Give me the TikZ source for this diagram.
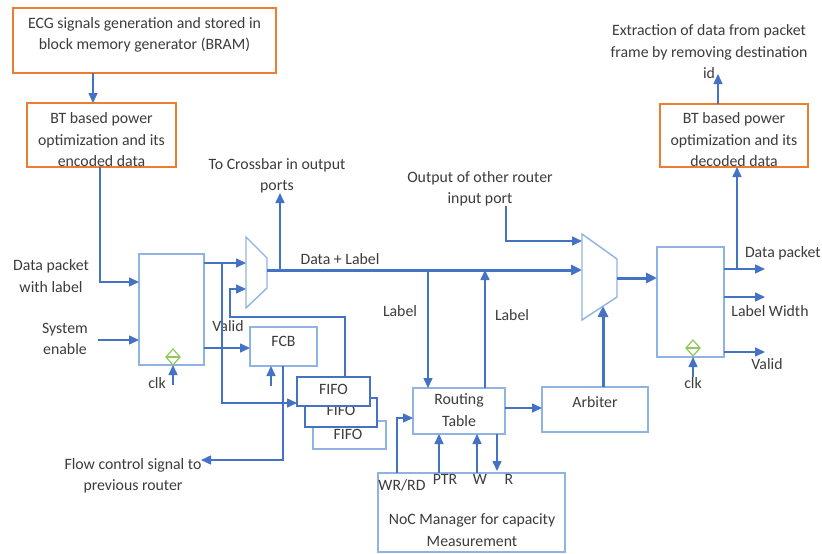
\documentclass[tikz,border=0pt]{standalone}
\usepackage{fontspec}
\setmainfont{Carlito}
\usetikzlibrary{arrows.meta,shapes.geometric}
\definecolor{wireblue}{RGB}{68,114,196}
\definecolor{frameblue}{RGB}{143,180,227}
\definecolor{accentorange}{RGB}{237,125,49}
\definecolor{labelgray}{RGB}{60,60,60}
\definecolor{clkgreen}{RGB}{146,200,90}
\begin{document}
\begin{tikzpicture}[x=1pt,y=-1pt,
  every node/.style={inner sep=0pt, outer sep=0pt},
  lbl/.style={text=labelgray, font=\fontsize{15.8}{21.5}\selectfont, align=center},
  frame/.style={draw=frameblue, line width=1.4pt, fill=white},
  darkframe/.style={draw=wireblue, line width=1.4pt, fill=white},
  srcbox/.style={draw=accentorange, line width=2.2pt},
  muxline/.style={draw=frameblue, line width=1.4pt, line join=miter},
  wire/.style={draw=wireblue, line width=1.5pt, -{Triangle[length=10pt,width=9pt]}},
  busarrow/.style={draw=wireblue, line width=3pt, -{Triangle[length=11pt,width=10pt]}},
  clkmark/.style={diamond, draw=clkgreen, line width=1.2pt, minimum width=14pt, minimum height=16pt}
]
\fill[white] (0,0) rectangle (822,554);
\useasboundingbox (0,0) rectangle (822,554);

% ---- source memory and encoder ----
\node[srcbox, minimum width=263pt, minimum height=65pt] (ecg) at (144.5,40.5) {};
\node[lbl] (ecgtxt) at (144.5,35) {ECG signals generation and stored in\\block memory generator (BRAM)};
\node[srcbox, minimum width=149pt, minimum height=64pt] (enc) at (101.5,135) {};
\node[lbl] (enctxt) at (101.5,140) {BT based power\\optimization and its\\encoded data};

% ---- decoder ----
\node[srcbox, minimum width=148pt, minimum height=63pt] (dec) at (734,135.5) {};
\node[lbl] (dectxt) at (734,140) {BT based power\\optimization and its\\decoded data};
\node[lbl] (extrtxt) at (709,52) {Extraction of data from packet\\frame by removing destination\\id};

% ---- input register ----
\node[frame, minimum width=65pt, minimum height=111pt] (inreg) at (171.5,309.5) {};
\node[clkmark] (inclk) at (173,357) {};
\draw[draw=clkgreen, line width=1.2pt] (inclk.west) -- (inclk.east);
\node[lbl] (inclktxt) at (157,383) {clk};
\node[lbl] (pkt) at (51,276) {Data packet\\with label};
\node[lbl] (en) at (65,339) {System\\enable};

% ---- flow control block ----
\node[frame, minimum width=67pt, minimum height=39pt] (fcb) at (283.5,346.5) {};
\node[lbl] (fcbtxt) at (283.5,341) {FCB};
\node[lbl] (validin) at (228,326) {Valid};
\node[lbl] (flow) at (133,476) {Flow control signal to\\previous router};

% ---- FIFO stack ----
\node[frame, minimum width=73pt, minimum height=28pt] (fifoC) at (349.5,435) {};
\node[lbl] (fifoCtxt) at (348,434) {FIFO};
\node[darkframe, minimum width=72pt, minimum height=29pt] (fifoB) at (341,412.5) {};
\node[lbl] (fifoBtxt) at (341,410) {FIFO};
\node[darkframe, minimum width=73pt, minimum height=29pt] (fifoA) at (333.5,391.5) {};
\node[lbl] (fifoAtxt) at (333.5,389) {FIFO};

% ---- routing, arbiter, manager ----
\node[frame, minimum width=92pt, minimum height=46pt] (routing) at (459,411) {};
\node[lbl] (routingtxt) at (459,410) {Routing\\Table};
\node[frame, minimum width=106pt, minimum height=45pt] (arbiter) at (595,409.5) {};
\node[lbl] (arbitertxt) at (595,402) {Arbiter};
\node[frame, minimum width=187pt, minimum height=79pt] (noc) at (471.5,512.5) {};
\node[lbl] (noctxt) at (472,530) {NoC Manager for capacity\\Measurement};
\node[lbl] (wrrd) at (402,485) {WR/RD};
\node[lbl] (ptr) at (445,479) {PTR};
\node[lbl] (wsig) at (480,479) {W};
\node[lbl] (rsig) at (509,479) {R};

% ---- output register ----
\node[frame, minimum width=67pt, minimum height=110pt] (outreg) at (690.5,302) {};
\node[clkmark] (outclk) at (693,348) {};
\draw[draw=clkgreen, line width=1.2pt] (outclk.west) -- (outclk.east);
\node[lbl] (outclktxt) at (693,383) {clk};
\node[lbl, anchor=west] (pktout) at (745,253) {Data packet};
\node[lbl] (lw) at (770,311) {Label Width};
\node[lbl] (validout) at (767,364) {Valid};

% ---- multiplexers ----
\node[minimum width=21pt, minimum height=71pt] (mux1) at (256.5,272.5) {};
\draw[muxline] (mux1.north west) -- ([yshift=-21pt]mux1.north east)
  -- ([yshift=20pt]mux1.south east) -- (mux1.south west) -- cycle;
\node[minimum width=35pt, minimum height=86pt] (mux2) at (599.5,277) {};
\draw[muxline] (mux2.north west) -- ([yshift=-25pt]mux2.north east)
  -- ([yshift=23pt]mux2.south east) -- (mux2.south west) -- cycle;
\node[lbl] (buslbl) at (340,259) {Data + Label};
\node[lbl] (xbartxt) at (277,176) {To Crossbar in output\\ports};
\node[lbl] (othertxt) at (480,189) {Output of other router\\input port};
\node[lbl] (lbl1) at (400,311) {Label};
\node[lbl] (lbl2) at (512,315) {Label};

% ---- free ends and bends ----
\coordinate (inclksrc) at (173,385);
\coordinate (ensrc) at (98,340);
\coordinate (fork) at (222,263);
\coordinate (fbturn) at (230,317);
\coordinate (fcbsrc) at (271,386);
\coordinate (flowtip) at (201,460);
\coordinate (busy) at (0,270);
\coordinate (xbar) at (280,193);
\coordinate (othersrc) at (506,206);
\coordinate (sel) at (603,306);
\coordinate (outclksrc) at (693,377);
\coordinate (outA) at (765,269);
\coordinate (outB) at (765,297);
\coordinate (outC) at (765,352);
\coordinate (extr) at (718,74);
\coordinate (rtip) at (497,471);

% ---- connectors ----
\draw[wire] (ecg.south -| 93,0) -- (enc.north -| 93,0);
\draw[wire] (enc.south -| 100,0) |- (inreg.west |- 0,282);
\draw[wire] (ensrc) -- (ensrc -| inreg.west);
\draw[wire] (inclksrc) -- (inclksrc |- inreg.south);
\draw[wire] (inreg.east |- fork) -- (mux1.west |- fork);
\draw[wire] (fork) |- (fifoA.west |- 0,403);
\draw[wire] (fifoA.north -| 345,0) |- (fbturn) |- (mux1.west |- 0,289);
\draw[wire] (inreg.east |- 0,348) -- (fcb.west |- 0,348);
\draw[wire] (fcbsrc) -- (fcbsrc |- fcb.south);
\draw[wire] (fcb.south -| 283,0) |- (flowtip);

\draw[busarrow] (mux1.east |- busy) -- (mux2.west |- busy);
\draw[wire] (xbar |- busy) -- (xbar);
\draw[wire] (428,0 |- busy) -- (routing.north -| 428,0);
\draw[wire] (routing.north -| 485,0) -- (485,0 |- busy);
\draw[wire] (othersrc) |- (mux2.west |- 0,241);
\draw[busarrow] (mux2.east |- 0,278) -- (outreg.west |- 0,278);
\draw[busarrow] (arbiter.north -| sel) -- (sel);

\draw[wire] (routing.east |- 0,408) -- (arbiter.west |- 0,408);
\draw[wire] (noc.north -| 397,0) |- (routing.west |- 0,418);
\draw[wire] (noc.north -| 439,0) -- (routing.south -| 439,0);
\draw[wire] (noc.north -| 477,0) -- (routing.south -| 477,0);
\draw[wire] (routing.south -| rtip) -- (rtip);

\draw[wire] (outclksrc) -- (outclksrc |- outreg.south);
\draw[wire] (outreg.east |- outA) -- (outA);
\draw[wire] (outreg.east |- outB) -- (outB);
\draw[wire] (outreg.east |- outC) -- (outC);
\draw[wire] (737,0 |- outA) -- (dec.south -| 737,0);
\draw[wire] (dec.north -| extr) -- (extr);
\end{tikzpicture}
\end{document}
